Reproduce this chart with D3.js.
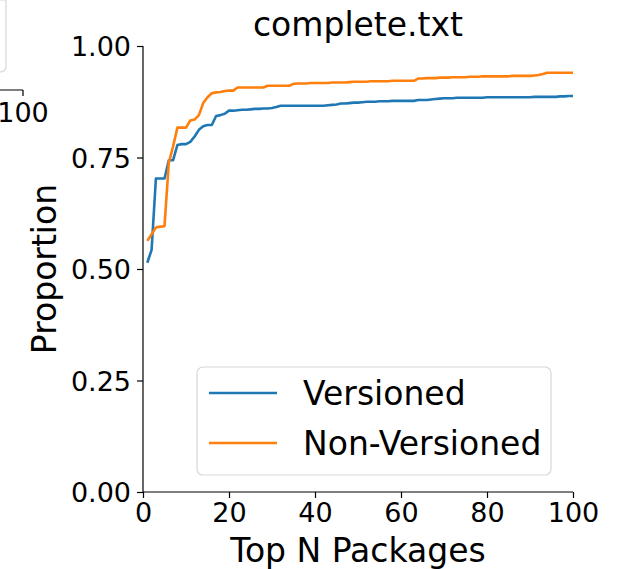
<!DOCTYPE html>
<html>
<head>
<meta charset="utf-8">
<script src="https://cdn.jsdelivr.net/npm/d3@7"></script>
<style>
  body { margin: 0; background: #fff; }
  svg { display: block; font-family: "DejaVu Sans", sans-serif; }
</style>
</head>
<body>
<div id="chart"></div>
<script>
// values, N = 1..100
var topN = d3.range(1, 101);

var versioned = [
  0.514, 0.543, 0.703, 0.703, 0.703, 0.744, 0.744, 0.778, 0.780, 0.780,
  0.785, 0.797, 0.812, 0.820, 0.823, 0.823, 0.843, 0.845, 0.848, 0.855,
  0.855, 0.856, 0.857, 0.857, 0.858, 0.859, 0.859, 0.860, 0.860, 0.861,
  0.863, 0.866, 0.866, 0.866, 0.866, 0.866, 0.866, 0.866, 0.866, 0.866,
  0.866, 0.866, 0.867, 0.868, 0.869, 0.871, 0.871, 0.872, 0.873, 0.873,
  0.874, 0.875, 0.875, 0.875, 0.876, 0.876, 0.876, 0.877, 0.877, 0.877,
  0.877, 0.877, 0.877, 0.879, 0.879, 0.879, 0.880, 0.881, 0.882, 0.883,
  0.883, 0.883, 0.884, 0.884, 0.884, 0.884, 0.884, 0.884, 0.884, 0.885,
  0.885, 0.885, 0.885, 0.885, 0.885, 0.885, 0.885, 0.885, 0.885, 0.885,
  0.886, 0.886, 0.886, 0.886, 0.886, 0.886, 0.887, 0.887, 0.888, 0.888
];

var nonVersioned = [
  0.563, 0.578, 0.593, 0.595, 0.596, 0.738, 0.775, 0.817, 0.817, 0.817,
  0.833, 0.835, 0.845, 0.872, 0.885, 0.894, 0.896, 0.897, 0.899, 0.900,
  0.900, 0.907, 0.907, 0.907, 0.907, 0.907, 0.907, 0.907, 0.911, 0.911,
  0.911, 0.911, 0.911, 0.911, 0.915, 0.916, 0.916, 0.916, 0.917, 0.917,
  0.917, 0.917, 0.917, 0.918, 0.918, 0.918, 0.918, 0.919, 0.920, 0.920,
  0.920, 0.920, 0.921, 0.921, 0.921, 0.921, 0.921, 0.922, 0.922, 0.922,
  0.922, 0.922, 0.922, 0.927, 0.927, 0.928, 0.928, 0.928, 0.929, 0.929,
  0.929, 0.930, 0.930, 0.930, 0.930, 0.931, 0.931, 0.931, 0.932, 0.932,
  0.932, 0.932, 0.932, 0.932, 0.932, 0.933, 0.933, 0.933, 0.933, 0.933,
  0.934, 0.935, 0.937, 0.940, 0.940, 0.940, 0.940, 0.940, 0.940, 0.940
];

var seriesNames = ["Versioned", "Non-Versioned"];
var seriesColors = ["#1f77b4", "#ff7f0e"];
var xTicks = [0, 20, 40, 60, 80, 100];
var yTicks = [0, 0.25, 0.5, 0.75, 1.0];

var width = 623,
    height = 569,
    plot_left = 143,
    plot_right = 573,
    plot_top = 46,
    plot_bottom = 492,
    tick_font = 27,
    label_font = 33;

var svg = d3.select("#chart").append("svg")
  .attr("width", width)
  .attr("height", height);

var x = d3.scaleLinear().domain([0, 100]).range([plot_left, plot_right]);
var y = d3.scaleLinear().domain([0, 1]).range([plot_bottom, plot_top]);

// bits of the neighbouring subplot that got cut off on the left
function drawNeighbour() {
  var g = svg.append("g");
  g.append("path")
    .attr("d", "M-10,0 L6,0 L6,66 Q6,72 0,72 L-10,72")
    .attr("fill", "none")
    .attr("stroke", "#d8d8d8")
    .attr("stroke-width", 1.2);
  g.append("path")
    .attr("d", "M-10,90 L23,90 M23,90 L23,96")
    .attr("stroke", "#000")
    .attr("stroke-width", 1.2)
    .attr("fill", "none");
  g.append("text")
    .attr("x", 23).attr("y", 122)
    .attr("text-anchor", "middle")
    .attr("font-size", tick_font)
    .text("100");
};

function drawAxes() {
  var xAxis = d3.axisBottom(x).tickValues(xTicks).tickSize(6).tickPadding(5)
    .tickFormat(d3.format("d"));
  var yAxis = d3.axisLeft(y).tickValues(yTicks).tickSize(6).tickPadding(6)
    .tickFormat(d3.format(".2f"));

  var gx = svg.append("g").attr("transform", "translate(0," + plot_bottom + ")").call(xAxis);
  var gy = svg.append("g").attr("transform", "translate(" + plot_left + ",0)").call(yAxis);

  [gx, gy].forEach(function(g) {
    g.selectAll("text").attr("font-size", tick_font).attr("fill", "#000")
      .attr("font-family", "DejaVu Sans");
    g.selectAll("line").attr("stroke", "#000").attr("stroke-width", 1.2);
    g.select(".domain").attr("stroke", "#000").attr("stroke-width", 1.2);
  });
  gy.selectAll("text").attr("dy", "0.36em");
  gy.select(".domain").attr("d", "M0," + plot_bottom + "V" + plot_top);
  gx.select(".domain").attr("d", "M" + plot_left + ",0H" + plot_right);

  svg.append("text")
    .attr("x", (plot_left + plot_right) / 2).attr("y", 562)
    .attr("text-anchor", "middle")
    .attr("font-size", label_font)
    .text("Top N Packages");

  svg.append("text")
    .attr("transform", "translate(56," + ((plot_top + plot_bottom) / 2) + ") rotate(-90)")
    .attr("text-anchor", "middle")
    .attr("font-size", label_font)
    .text("Proportion");

  svg.append("text")
    .attr("x", (plot_left + plot_right) / 2).attr("y", 36)
    .attr("text-anchor", "middle")
    .attr("font-size", label_font)
    .text("complete.txt");
};

function drawLines() {
  var line = d3.line()
    .x(function(d, i) { return x(topN[i]); })
    .y(function(d) { return y(d); });

  [versioned, nonVersioned].forEach(function(vals, i) {
    svg.append("path")
      .datum(vals)
      .attr("d", line)
      .attr("fill", "none")
      .attr("stroke", seriesColors[i])
      .attr("stroke-width", 2.6)
      .attr("stroke-linejoin", "round");
  });
};

function drawLegend() {
  var g = svg.append("g");
  g.append("rect")
    .attr("x", 197).attr("y", 367)
    .attr("width", 354).attr("height", 108)
    .attr("rx", 6)
    .attr("fill", "rgba(255,255,255,0.8)")
    .attr("stroke", "#d8d8d8")
    .attr("stroke-width", 1.2);

  seriesNames.forEach(function(name, i) {
    var yy = 393 + i * 50;
    g.append("line")
      .attr("x1", 209).attr("x2", 277)
      .attr("y1", yy).attr("y2", yy)
      .attr("stroke", seriesColors[i])
      .attr("stroke-width", 2.6);
    g.append("text")
      .attr("x", 303).attr("y", yy + 12)
      .attr("font-size", label_font)
      .text(name);
  });
};

drawNeighbour();
drawAxes();
drawLines();
drawLegend();
</script>
</body>
</html>
